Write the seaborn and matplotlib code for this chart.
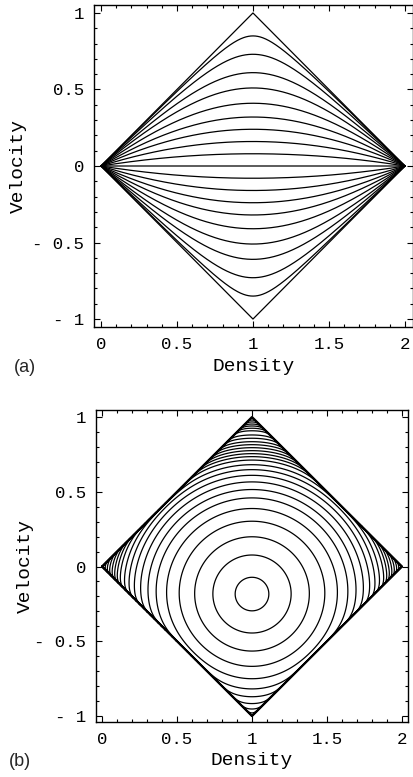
import numpy as np
import pandas as pd
import matplotlib
matplotlib.use('Agg')
import matplotlib.pyplot as plt
import seaborn as sns
from matplotlib.ticker import MultipleLocator, FixedLocator, FixedFormatter

sns.set_style('ticks')
plt.rcParams['font.family'] = ['Liberation Mono', 'DejaVu Sans Mono']

# (a) velocity of each curve at density 1
peak_a = [0.85, 0.73, 0.61, 0.51, 0.41, 0.32, 0.24, 0.16, 0.08, 0.0,
          -0.08, -0.16, -0.24, -0.32, -0.41, -0.51, -0.61, -0.73, -0.85]
# outer diamond
edge_rho = [0, 1, 2, 1, 0]
edge_vel = [0, 1, 0, -1, 0]

# (b) centre of the closed orbits and the top of every ring at density 1
centre_v = -0.19
ring_top = [-0.072, 0.077, 0.199, 0.303, 0.388, 0.459, 0.515, 0.566, 0.61,
            0.648, 0.681, 0.712, 0.735, 0.755, 0.775, 0.795, 0.815, 0.835,
            0.858, 0.88, 0.908, 0.925, 0.94, 0.953, 0.967, 0.98, 0.991]

xticks = [0, 0.5, 1, 1.5, 2]
xlabels = ['0', '0.5', '1', '1.5', '2']
yticks = [-1, -0.5, 0, 0.5, 1]
ylabels = ['- 1', '- 0.5', '0', '0.5', '1']

# curves of (a): artanh(rho+v-1) - artanh(rho-v-1) = const
s = np.linspace(-14, 14, 1500)
rows = []
for i, vp in enumerate(peak_a):
    c = 2 * np.arctanh(vp)
    p = np.tanh((s + c) / 2)
    m = np.tanh((s - c) / 2)
    rows.append(pd.DataFrame({'curve': i, 'density': 1 + (p + m) / 2,
                              'velocity': (p - m) / 2}))
df_a = pd.concat(rows, ignore_index=True)

# orbits of (b): round near the centre, squeezed against the diamond edges
eps = 0.015


def orbit_h(r, v):
    a = r + v
    b = r - v
    inside = (a > 0) & (a < 2) & (b > 0) & (b < 2)
    ac = np.clip(a, 1e-12, 2 - 1e-12)
    bc = np.clip(b, 1e-12, 2 - 1e-12)
    wall = -(np.log(ac) + np.log(2 - ac) + np.log(bc) + np.log(2 - bc))
    h = (r - 1)**2 + (v - centre_v)**2 + eps * wall
    return np.where(inside, h, 50.0)


rho = np.linspace(0, 2, 1401)
vel = np.linspace(-1, 1, 1401)
R, V = np.meshgrid(rho, vel)
H = orbit_h(R, V)
levels = np.sort(orbit_h(np.ones(len(ring_top)), np.array(ring_top)))


def style(ax, xlim, ylim):
    ax.set_xlim(*xlim)
    ax.set_ylim(*ylim)
    ax.xaxis.set_major_locator(FixedLocator(xticks))
    ax.xaxis.set_major_formatter(FixedFormatter(xlabels))
    ax.yaxis.set_major_locator(FixedLocator(yticks))
    ax.yaxis.set_major_formatter(FixedFormatter(ylabels))
    ax.xaxis.set_minor_locator(MultipleLocator(0.1))
    ax.yaxis.set_minor_locator(MultipleLocator(0.1))
    ax.tick_params(which='both', direction='in', top=True, right=True,
                   color='black', width=0.8, labelsize=12.5, labelcolor='black')
    ax.tick_params(which='major', length=4, pad=7)
    ax.tick_params(which='minor', length=2)
    for sp in ax.spines.values():
        sp.set_color('black')
        sp.set_linewidth(1.0)
    ax.set_xlabel('Density', fontsize=14, color='black')
    ax.set_ylabel('Velocity', fontsize=14, color='black')


fig = plt.figure(figsize=(4.14, 7.77), dpi=100)
ax1 = fig.add_axes([94/414, 1 - 327/777, 319/414, 322/777])
ax2 = fig.add_axes([96/414, 1 - 722/777, 312/414, 312/777])

sns.lineplot(data=df_a, x='density', y='velocity', units='curve',
             estimator=None, sort=False, color='black', linewidth=0.9, ax=ax1)
sns.lineplot(x=edge_rho, y=edge_vel, sort=False, estimator=None,
             color='black', linewidth=0.9, ax=ax1)
style(ax1, (-0.046, 2.053), (-1.052, 1.052))
ax1.xaxis.set_label_coords(0.5, -0.095)
ax1.yaxis.set_label_coords(-0.21, 0.5)

ax2.contour(R, V, H, levels=levels, colors='black', linewidths=0.9)
sns.lineplot(x=edge_rho, y=edge_vel, sort=False, estimator=None,
             color='black', linewidth=1.6, ax=ax2)
style(ax2, (-0.04, 2.04), (-1.04, 1.047))
ax2.xaxis.set_label_coords(0.5, -0.095)
ax2.yaxis.set_label_coords(-0.2, 0.5)

fig.text(14/414, 1 - 368/777, '(a)', family=['Liberation Sans'], fontsize=13,
         va='center', ha='left')
fig.text(9/414, 1 - 761/777, '(b)', family=['Liberation Sans'], fontsize=13,
         va='center', ha='left')

fig.savefig('out.png', dpi=100)
